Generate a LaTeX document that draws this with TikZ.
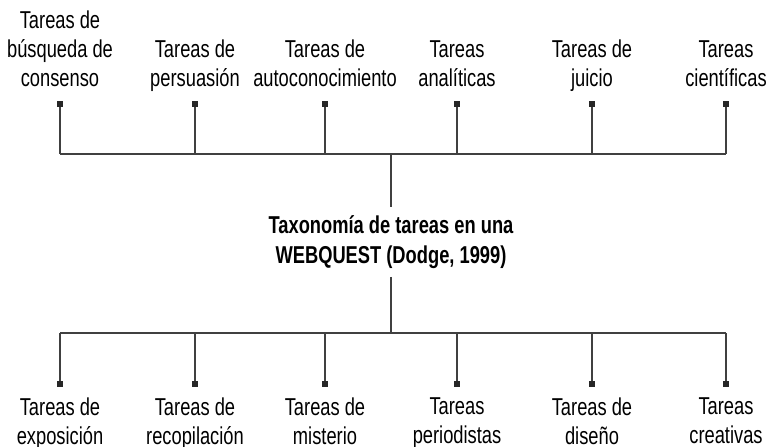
\documentclass[tikz,border=0pt]{standalone}
\usepackage{fontspec}
\setmainfont[FakeStretch=0.75]{Liberation Sans}
\begin{document}
\begin{tikzpicture}[x=0.5pt, y=-0.5pt,
    tarea/.style={align=center, font=\fontsize{12.2}{14.5}\selectfont, inner sep=0pt},
    punto/.style={fill=black!85, inner sep=0pt, minimum size=3pt},
    rama/.style={draw=black!75, line width=0.75pt}]
    \useasboundingbox (0,0) rectangle (767,446);
    % nodo central
    \node[tarea, font=\bfseries\fontsize{12.2}{15}\selectfont, inner sep=4pt] (taxo) at (391,242) {Taxonomía de tareas en una\\WEBQUEST (Dodge, 1999)};
    \coordinate (barA) at (391,154);
    \coordinate (barB) at (391,333);
    % tareas de arriba
    \foreach \x/\n/\t in {60/1/{Tareas de\\búsqueda de\\consenso}, 195/2/{Tareas de\\persuasión}, 325/3/{Tareas de\\autoconocimiento}, 457/4/{Tareas\\analíticas}, 592/5/{Tareas de\\juicio}, 726/6/{Tareas\\científicas}} {
        \node[tarea, anchor=south, text depth=0pt] (ta\n) at (\x,87) {\t};
        \coordinate (pa\n) at (\x,104);
        \draw[rama] (pa\n) -- (pa\n |- barA);
    }
    % tareas de abajo
    \foreach \x/\n/\t in {60/1/{Tareas de\\exposición}, 195/2/{Tareas de\\recopilación}, 325/3/{Tareas de\\misterio}, 457/4/{Tareas\\periodistas}, 592/5/{Tareas de\\diseño}, 726/6/{Tareas\\creativas}} {
        \node[tarea, anchor=north] (tb\n) at (\x,397) {\t};
        \coordinate (pb\n) at (\x,384);
        \draw[rama] (pb\n) -- (pb\n |- barB);
    }
    \draw[rama] (pa1 |- barA) -- (pa6 |- barA);
    \draw[rama] (pb1 |- barB) -- (pb6 |- barB);
    \draw[rama] (barA) -- (taxo.north);
    \draw[rama] (taxo.south) -- (barB);
    \foreach \n in {1,...,6} {
        \node[punto] at (pa\n) {};
        \node[punto] at (pb\n) {};
    }
\end{tikzpicture}
\end{document}
